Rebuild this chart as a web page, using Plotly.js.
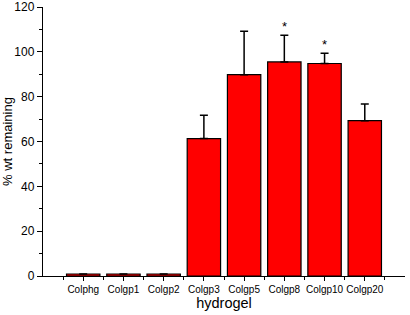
<!DOCTYPE html>
<html>
<head>
<meta charset="utf-8">
<script src="https://cdn.plot.ly/plotly-3.0.1.min.js"></script>
<style>html,body{margin:0;padding:0;background:#fff;}#chart{width:410px;height:315px;}</style>
</head>
<body>
<div id="chart"></div>
<script>
const categories = ["Colphg","Colgp1","Colgp2","Colgp3","Colgp5","Colgp8","Colgp10","Colgp20"];
const values = [0.9, 0.9, 0.9, 61.3, 89.8, 95.5, 94.8, 69.3];
const errors = [0, 0, 0, 10.4, 19.4, 11.9, 4.6, 7.4];
const significant = [false, false, false, false, false, true, true, false];

const xpos = categories.map((c, i) => i);

const trace = {
  type: 'bar',
  x: xpos,
  y: values,
  width: 0.83,
  marker: {color: '#ff0000', line: {color: '#000000', width: 1.2}},
  error_y: {
    type: 'data',
    symmetric: false,
    array: errors,
    arrayminus: errors.map(() => 0),
    color: '#000000',
    thickness: 1.5,
    width: 4,
    visible: true
  },
  hoverinfo: 'none'
};

const annotations = [];
significant.forEach((s, i) => {
  if (s) {
    annotations.push({
      x: xpos[i], y: values[i] + errors[i], xref: 'x', yref: 'y',
      text: '*', showarrow: false, yanchor: 'bottom', yshift: -1,
      font: {family: 'Liberation Sans, Arial, sans-serif', size: 13, color: '#000'}
    });
  }
});

const layout = {
  width: 410, height: 315,
  margin: {l: 43, r: 5, t: 7, b: 39},
  paper_bgcolor: '#fff', plot_bgcolor: '#fff',
  showlegend: false,
  font: {family: 'Liberation Sans, Arial, sans-serif', color: '#000'},
  xaxis: {
    range: [-1, 8],
    tickmode: 'array',
    tickvals: xpos,
    ticktext: categories,
    tickangle: 0,
    ticks: 'outside', ticklen: 4, tickwidth: 1, tickcolor: '#000',
    minor: {tickmode: 'linear', tick0: 0.5, dtick: 1, ticks: 'outside', ticklen: 3, tickwidth: 1, tickcolor: '#000'},
    showline: true, linecolor: '#000', linewidth: 1.2,
    showgrid: false, zeroline: false,
    tickfont: {size: 10, color: '#000'},
    title: {text: 'hydrogel', font: {size: 14.5, color: '#000'}, standoff: 3}
  },
  yaxis: {
    range: [0, 120],
    tickmode: 'linear', tick0: 0, dtick: 20,
    ticks: 'outside', ticklen: 5, tickwidth: 1, tickcolor: '#000',
    minor: {tickmode: 'linear', tick0: 0, dtick: 10, ticks: 'outside', ticklen: 3, tickwidth: 1, tickcolor: '#000'},
    showline: true, linecolor: '#000', linewidth: 1.2,
    showgrid: false, zeroline: false,
    ticklabeloverflow: 'allow',
    tickfont: {size: 12, color: '#000'},
    title: {text: '% wt remaining', font: {size: 13, color: '#000'}, standoff: 6}
  },
  annotations: annotations
};

Plotly.newPlot('chart', [trace], layout, {staticPlot: true, displayModeBar: false});
</script>
</body>
</html>
